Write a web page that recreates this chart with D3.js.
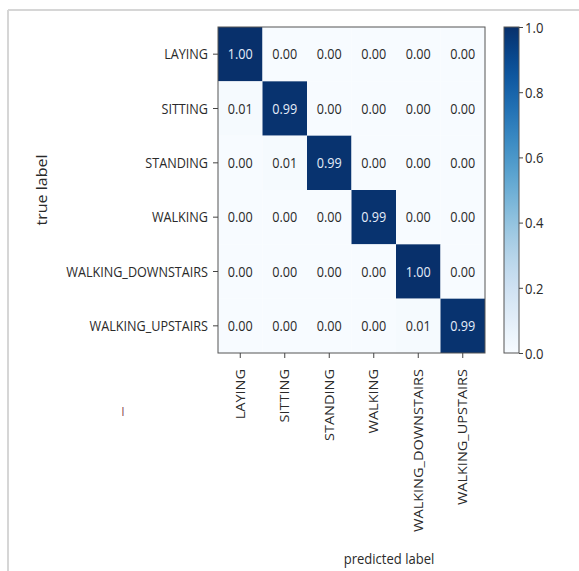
<!DOCTYPE html>
<html>
<head>
<meta charset="utf-8">
<script src="https://cdn.jsdelivr.net/npm/d3@7"></script>
<style>
  html, body { margin: 0; padding: 0; background: #ffffff; }
  svg { display: block; }
  text { font-family: "Open Sans", "DejaVu Sans", sans-serif; fill: #2a2a2a; }
</style>
</head>
<body>
<svg id="chart" width="579" height="571"></svg>
<script>
// ---- data ----
const trueLabels = ["LAYING", "SITTING", "STANDING", "WALKING", "WALKING_DOWNSTAIRS", "WALKING_UPSTAIRS"];
const predictedLabels = ["LAYING", "SITTING", "STANDING", "WALKING", "WALKING_DOWNSTAIRS", "WALKING_UPSTAIRS"];
const rowLaying            = [1.00, 0.00, 0.00, 0.00, 0.00, 0.00];
const rowSitting           = [0.01, 0.99, 0.00, 0.00, 0.00, 0.00];
const rowStanding          = [0.00, 0.01, 0.99, 0.00, 0.00, 0.00];
const rowWalking           = [0.00, 0.00, 0.00, 0.99, 0.00, 0.00];
const rowWalkingDownstairs = [0.00, 0.00, 0.00, 0.00, 1.00, 0.00];
const rowWalkingUpstairs   = [0.00, 0.00, 0.00, 0.00, 0.01, 0.99];
const colorbarTicks = [0.0, 0.2, 0.4, 0.6, 0.8, 1.0];

const matrix = [rowLaying, rowSitting, rowStanding, rowWalking, rowWalkingDownstairs, rowWalkingUpstairs];
const cells = [];
matrix.forEach((row, i) => row.forEach((v, j) => cells.push({ t: trueLabels[i], p: predictedLabels[j], v })));

// ---- layout ----
const sx = 0.87; // horizontal squeeze of the reference picture
const svg = d3.select("#chart");
const L = 218, R = 485, T = 27, B = 353;

const x = d3.scaleBand().domain(predictedLabels).range([L, R]);
const y = d3.scaleBand().domain(trueLabels).range([T, B]);
const color = d3.scaleSequential(d3.interpolateBlues).domain([0, 1]);

// frame of the screenshot
svg.append("line").attr("x1", 8).attr("x2", 579).attr("y1", 10).attr("y2", 10)
  .attr("stroke", "#d6d6d6").attr("stroke-width", 2);
svg.append("line").attr("x1", 8).attr("x2", 8).attr("y1", 10).attr("y2", 571)
  .attr("stroke", "#d6d6d6").attr("stroke-width", 2);

// cells
svg.append("g").selectAll("rect").data(cells).join("rect")
  .attr("x", d => x(d.p)).attr("y", d => y(d.t))
  .attr("width", x.bandwidth()).attr("height", y.bandwidth())
  .attr("fill", d => color(d.v));

svg.append("g").selectAll("text").data(cells).join("text")
  .attr("transform", d => `translate(${x(d.p) + x.bandwidth() / 2},${y(d.t) + y.bandwidth() / 2}) scale(${sx},1)`)
  .attr("text-anchor", "middle").attr("dy", "0.35em")
  .style("font-size", "14.5px")
  .style("fill", d => d.v > 0.5 ? "#e4ecf8" : "#2a2a2a")
  .text(d => d3.format(".2f")(d.v));

svg.append("rect").attr("x", L).attr("y", T).attr("width", R - L).attr("height", B - T)
  .attr("fill", "none").attr("stroke", "#555").attr("stroke-width", 1);

// axes
const yAxis = svg.append("g").attr("transform", `translate(${L},0)`)
  .call(d3.axisLeft(y).tickSize(5).tickPadding(0));
yAxis.select(".domain").remove();
yAxis.selectAll("line").attr("stroke", "#444");
yAxis.selectAll("text")
  .attr("x", null).attr("dy", null)
  .attr("transform", `translate(-10,0) scale(${sx},1)`)
  .attr("dy", "0.35em")
  .style("font-size", "14.5px").style("font-family", "'Open Sans', sans-serif").style("fill", "#2a2a2a");

const xAxis = svg.append("g").attr("transform", `translate(0,${B})`)
  .call(d3.axisBottom(x).tickSize(5).tickPadding(0));
xAxis.select(".domain").remove();
xAxis.selectAll("line").attr("stroke", "#444");
xAxis.selectAll("text")
  .attr("x", null).attr("y", null).attr("dy", null)
  .attr("transform", `translate(0,16) scale(${sx},1) rotate(-90)`)
  .attr("text-anchor", "end").attr("dy", "0.35em")
  .style("font-size", "14.5px").style("font-family", "'Open Sans', sans-serif").style("fill", "#2a2a2a");

// axis titles
svg.append("text")
  .attr("transform", `translate(47,190) scale(${sx},1) rotate(-90)`)
  .attr("text-anchor", "middle")
  .style("font-size", "16px")
  .text("true label");

svg.append("text")
  .attr("transform", `translate(389,564) scale(${sx},1)`)
  .attr("text-anchor", "middle")
  .style("font-size", "15px")
  .text("predicted label");

svg.append("text")
  .attr("transform", `translate(123,416) scale(${sx},1)`)
  .attr("text-anchor", "middle")
  .style("font-size", "12px")
  .style("fill", "#7a1f3d")
  .text("I");

// colorbar
const cbL = 504, cbW = 15;
const cScale = d3.scaleLinear().domain([0, 1]).range([B, T]);
const defs = svg.append("defs");
const grad = defs.append("linearGradient").attr("id", "cbgrad")
  .attr("x1", 0).attr("y1", 1).attr("x2", 0).attr("y2", 0);
d3.range(0, 1.0001, 0.05).forEach(t => {
  grad.append("stop").attr("offset", t).attr("stop-color", color(t));
});
svg.append("rect").attr("x", cbL).attr("y", T).attr("width", cbW).attr("height", B - T)
  .attr("fill", "url(#cbgrad)").attr("stroke", "#555").attr("stroke-width", 1);

const cAxis = svg.append("g").attr("transform", `translate(${cbL + cbW},0)`)
  .call(d3.axisRight(cScale).tickValues(colorbarTicks).tickFormat(d3.format(".1f")).tickSize(4).tickPadding(0));
cAxis.select(".domain").remove();
cAxis.selectAll("line").attr("stroke", "#444");
cAxis.selectAll("text")
  .attr("x", null).attr("dy", null)
  .attr("transform", `translate(6,0) scale(${sx},1)`)
  .attr("dy", "0.35em")
  .style("font-size", "15px").style("font-family", "'Open Sans', sans-serif").style("fill", "#2a2a2a");
</script>
</body>
</html>
